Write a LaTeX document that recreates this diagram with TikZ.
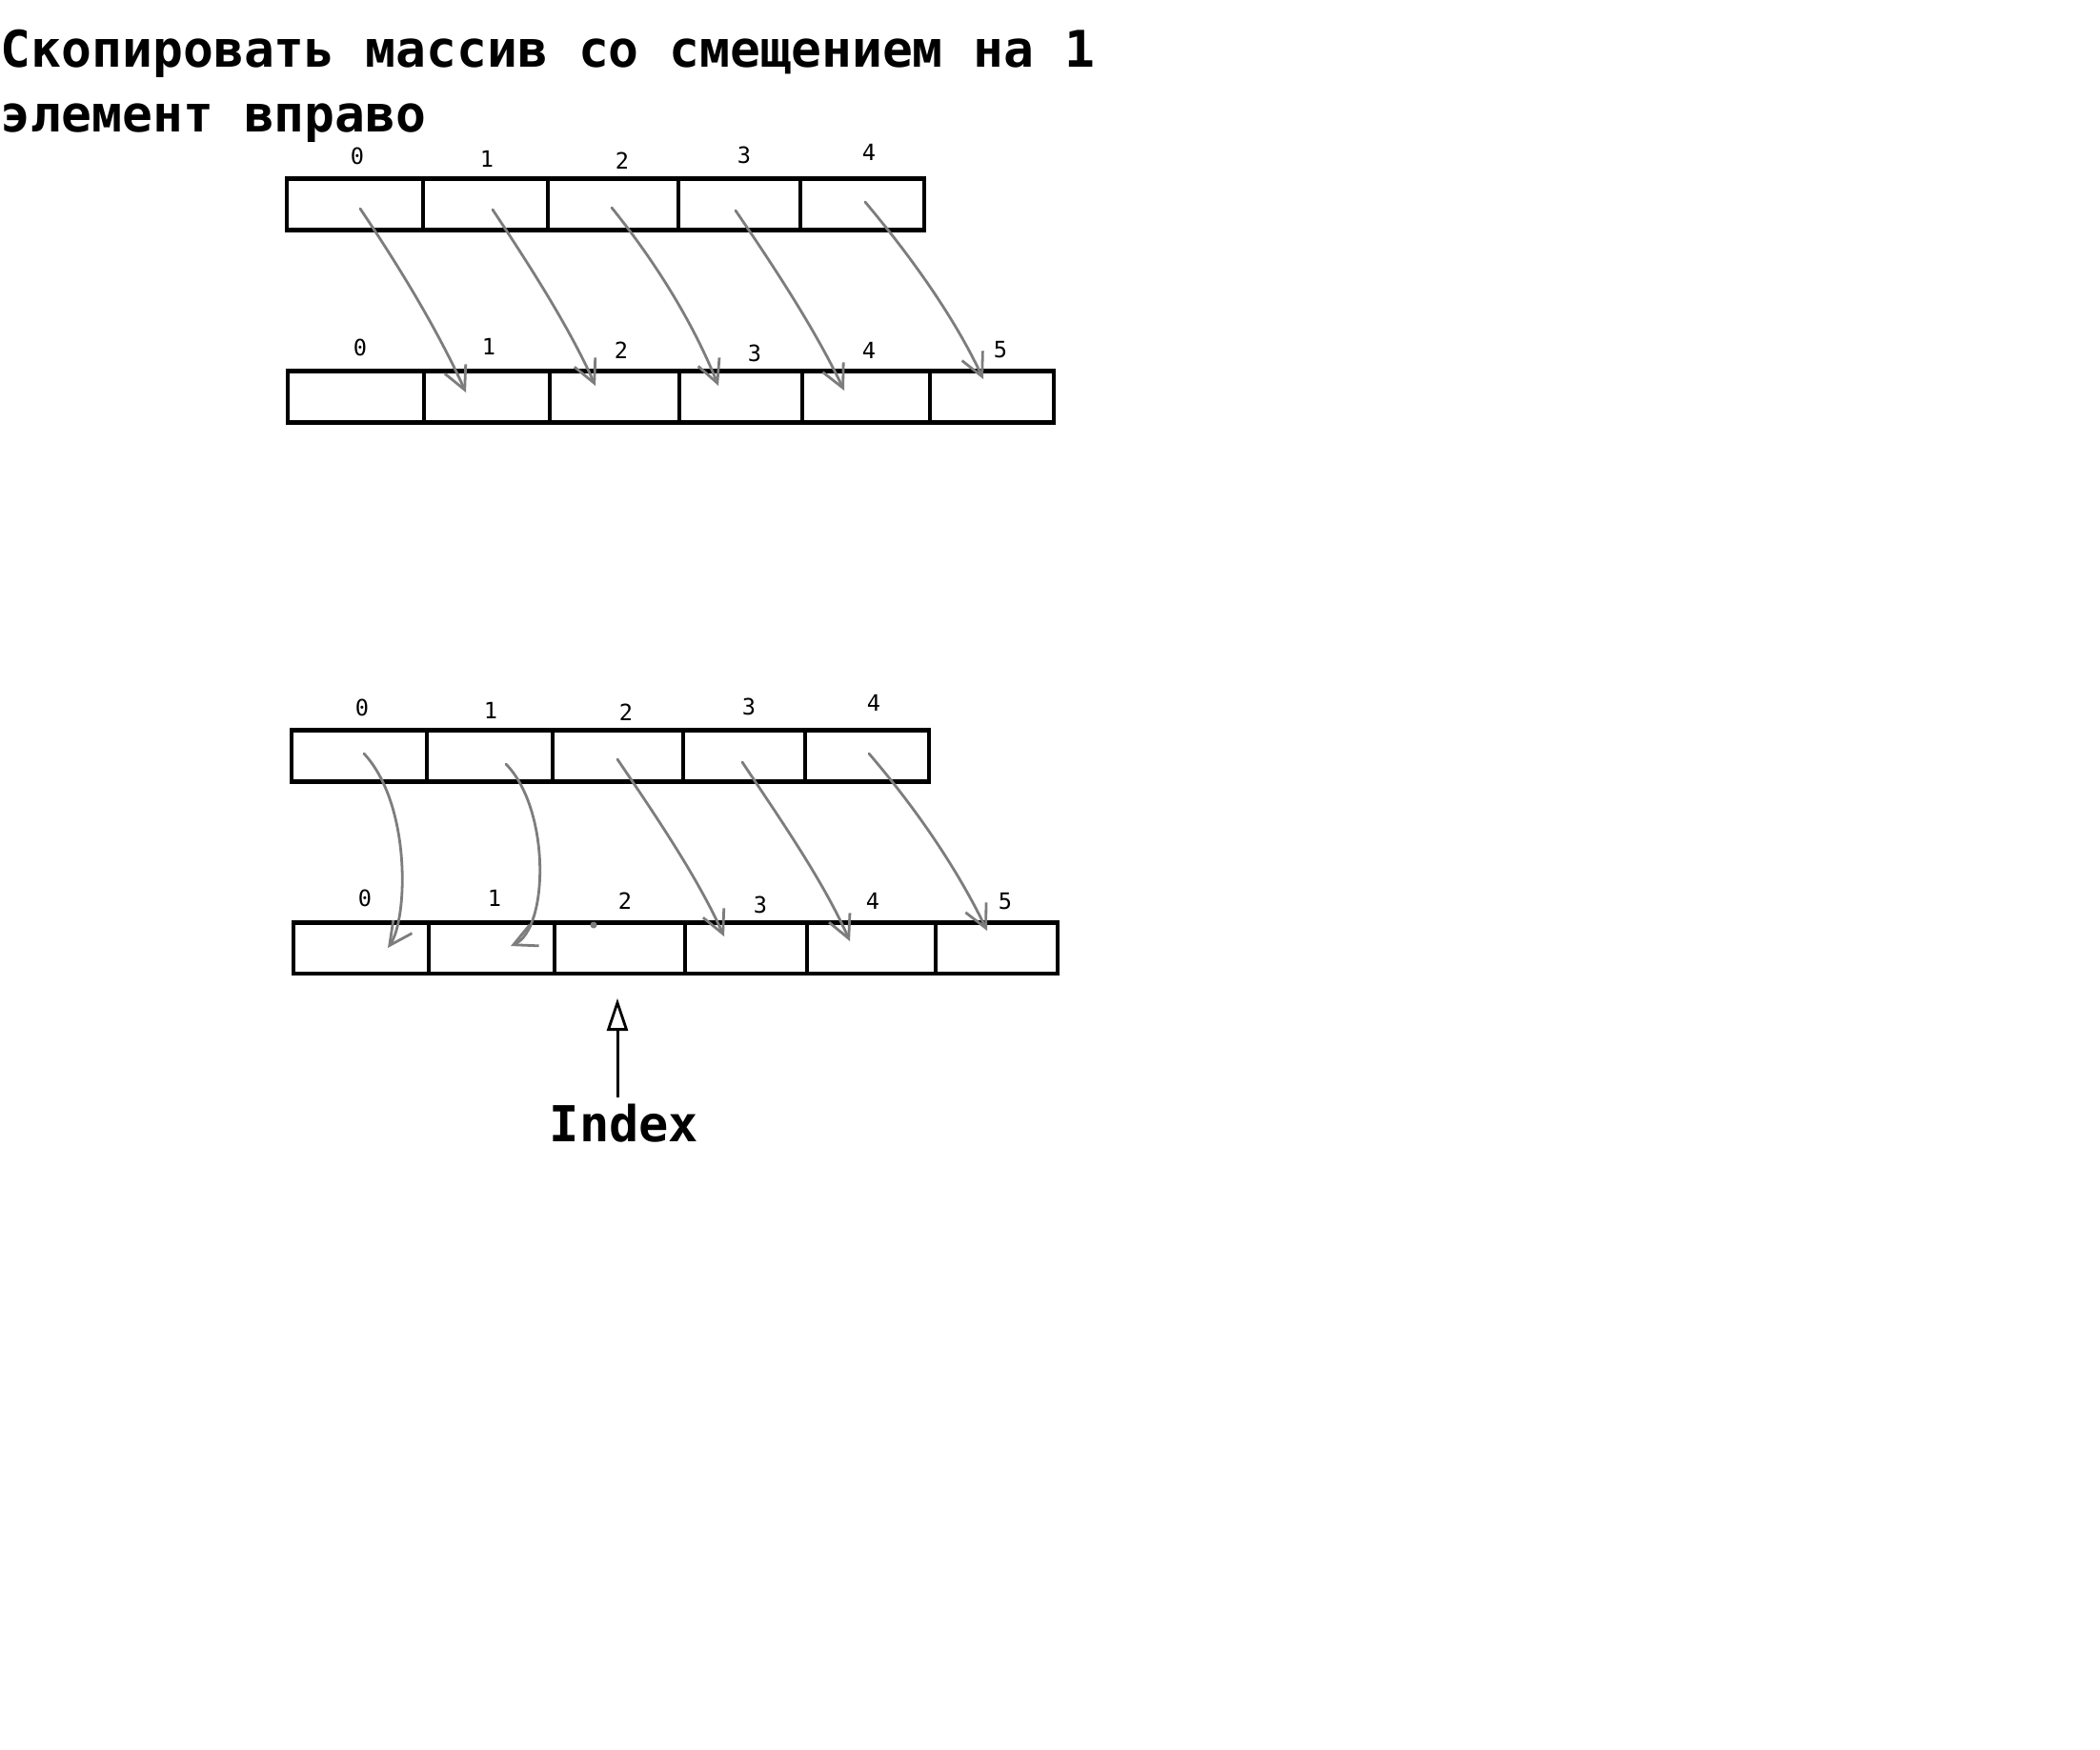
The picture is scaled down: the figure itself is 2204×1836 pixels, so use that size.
\documentclass[tikz,border=0pt]{standalone}
\usepackage{fontspec}
\setmonofont{DejaVu Sans Mono}
\usetikzlibrary{arrows.meta,calc}
\definecolor{arrgray}{RGB}{125,125,125}
\begin{document}
\begin{tikzpicture}[x=0.25pt,y=-0.25pt,
  cell/.style={draw, line width=1.15pt, inner sep=0pt, minimum height=13.4pt},
  idxlbl/.style={font=\ttfamily\fontsize{5.9pt}{7pt}\selectfont, inner sep=0pt},
  titlelbl/.style={font=\ttfamily\bfseries\fontsize{13.25pt}{16pt}\selectfont, inner sep=0pt, anchor=base west},
  copyarrow/.style={draw=arrgray, line width=0.7pt, line cap=round, line join=round,
    -{Straight Barb[length=6pt,width=6pt,line width=0.7pt]}},
  indexarrow/.style={draw=black, line width=0.75pt, -{Triangle[open,length=8.5pt,width=5.5pt,line width=0.7pt]}}
]
\fill[white] (0,0) rectangle (2204,1836);
\path[use as bounding box] (0,0) rectangle (2204,1836);

% title
\node[titlelbl] (title1) at (0,70) {Скопировать массив со смещением на 1};
\node[titlelbl] (title2) at (0,138) {элемент вправо};

% ---------- upper example ----------
\node[cell, minimum width=35.75pt] (a0) at (372.5,214.5) {};
\node[cell, minimum width=32.75pt] (a1) at (509.5,214.5) {};
\node[cell, minimum width=34.25pt] (a2) at (643.5,214.5) {};
\node[cell, minimum width=32pt]    (a3) at (776,214.5) {};
\node[cell, minimum width=32.5pt]  (a4) at (905,214.5) {};

\node[idxlbl] (la0) at (375,164) {0};
\node[idxlbl] (la1) at (511,167) {1};
\node[idxlbl] (la2) at (653,169) {2};
\node[idxlbl] (la3) at (781,163) {3};
\node[idxlbl] (la4) at (912,160) {4};

\node[cell, minimum width=35.75pt] (b0) at (373.5,416.5) {};
\node[cell, minimum width=33pt]    (b1) at (511,416.5) {};
\node[cell, minimum width=34pt]    (b2) at (645,416.5) {};
\node[cell, minimum width=32.25pt] (b3) at (777.5,416.5) {};
\node[cell, minimum width=33.5pt]  (b4) at (909,416.5) {};
\node[cell, minimum width=32.5pt]  (b5) at (1041,416.5) {};

\node[idxlbl] (lb0) at (378,365) {0};
\node[idxlbl] (lb1) at (513,364) {1};
\node[idxlbl] (lb2) at (652,368) {2};
\node[idxlbl] (lb3) at (792,371) {3};
\node[idxlbl] (lb4) at (912,368) {4};
\node[idxlbl] (lb5) at (1050,367) {5};

\coordinate (t1s) at (378,219);  \coordinate (t1e) at (489,412);
\coordinate (t2s) at (517,220);  \coordinate (t2e) at (625,405);
\coordinate (t3s) at (642,218);  \coordinate (t3e) at (754,405);
\coordinate (t4s) at (772,221);  \coordinate (t4e) at (886,410);
\coordinate (t5s) at (908,212);  \coordinate (t5e) at (1032,398);

\draw[copyarrow] (t1s) .. controls (421,283) and (460,348) .. (t1e);
\draw[copyarrow] (t2s) .. controls (558,282) and (597,343) .. (t2e);
\draw[copyarrow] (t3s) .. controls (692,280) and (729,343) .. (t3e);
\draw[copyarrow] (t4s) .. controls (815,284) and (856,347) .. (t4e);
\draw[copyarrow] (t5s) .. controls (960,274) and (1003,336) .. (t5e);

% ---------- lower example ----------
\node[cell, minimum width=35.5pt]  (c0) at (377,793.5) {};
\node[cell, minimum width=33pt]    (c1) at (514,793.5) {};
\node[cell, minimum width=34.25pt] (c2) at (648.5,793.5) {};
\node[cell, minimum width=32pt]    (c3) at (781,793.5) {};
\node[cell, minimum width=32.5pt]  (c4) at (910,793.5) {};

\node[idxlbl] (lc0) at (380,743) {0};
\node[idxlbl] (lc1) at (515,746) {1};
\node[idxlbl] (lc2) at (657,748) {2};
\node[idxlbl] (lc3) at (786,742) {3};
\node[idxlbl] (lc4) at (917,738) {4};

\node[cell, minimum width=35.5pt]  (d0) at (379,995) {};
\node[cell, minimum width=33pt]    (d1) at (516,995) {};
\node[cell, minimum width=34.25pt] (d2) at (650.5,995) {};
\node[cell, minimum width=32pt]    (d3) at (783,995) {};
\node[cell, minimum width=33.75pt] (d4) at (914.5,995) {};
\node[cell, minimum width=32pt]    (d5) at (1046,995) {};

\node[idxlbl] (ld0) at (383,943) {0};
\node[idxlbl] (ld1) at (519,943) {1};
\node[idxlbl] (ld2) at (656,946) {2};
\node[idxlbl] (ld3) at (798,950) {3};
\node[idxlbl] (ld4) at (916,946) {4};
\node[idxlbl] (ld5) at (1055,946) {5};

\fill[arrgray] (623,971) circle (3.5);

\coordinate (u1s) at (382,791);  \coordinate (u1e) at (407,995);
\coordinate (u2s) at (531,802);  \coordinate (u2e) at (536,993);
\coordinate (u3s) at (648,797);  \coordinate (u3e) at (760,983);
\coordinate (u4s) at (779,800);  \coordinate (u4e) at (892,988);
\coordinate (u5s) at (912,791);  \coordinate (u5e) at (1036,977);

\draw[copyarrow] (u1s) .. controls (432,845) and (428,965) .. (u1e);
\draw[copyarrow] (u2s) .. controls (578,850) and (576,975) .. (u2e);
\draw[copyarrow] (u3s) .. controls (690,859) and (732,921) .. (u3e);
\draw[copyarrow] (u4s) .. controls (821,863) and (864,925) .. (u4e);
\draw[copyarrow] (u5s) .. controls (965,853) and (1006,915) .. (u5e);

% index pointer
\node[font=\ttfamily\bfseries\fontsize{13pt}{15pt}\selectfont, inner sep=0pt, anchor=base] (idx) at (655,1198) {Index};
\coordinate (itip) at (648,1048);
\draw[indexarrow] ($(itip |- idx.north)+(0,-6)$) -- (itip);
\end{tikzpicture}
\end{document}
